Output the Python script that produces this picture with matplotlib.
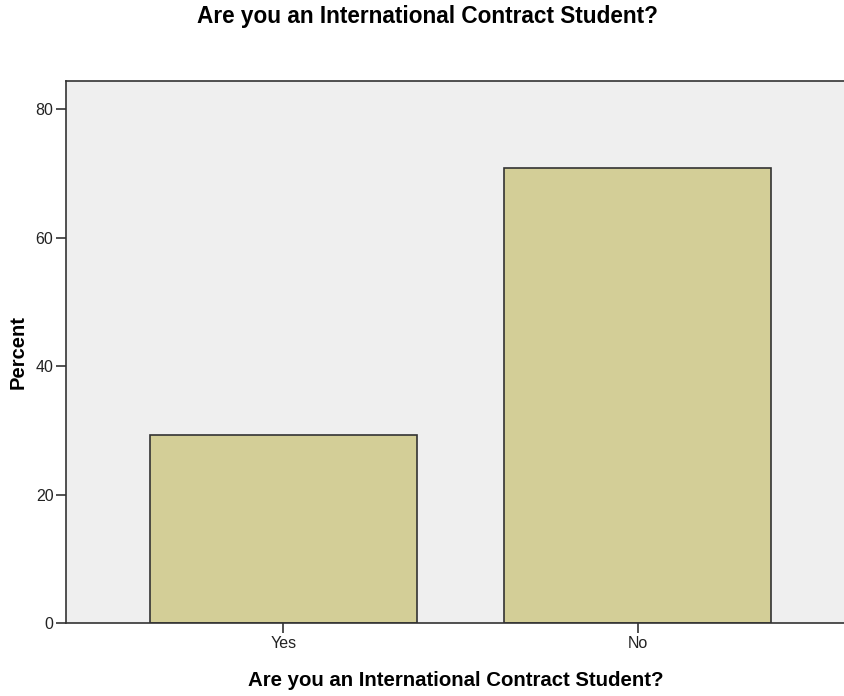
import matplotlib.pyplot as plt

categories = ['Yes', 'No']
percent = [29.2, 70.8]
yticks = [0, 20, 40, 60, 80]

plt.rcParams['font.family'] = ['Liberation Sans', 'DejaVu Sans']

fig = plt.figure(figsize=(8.45, 6.96), dpi=100)
ax = fig.add_axes([66/845, 73/696, 1 - 66/845, 542/696])
ax.set_facecolor('#efefef')

x = list(range(len(categories)))
ax.bar(x, percent, width=0.754, color='#d3ce97', edgecolor='#333333', linewidth=1.2, zorder=2)

ax.set_xlim(-0.614, 1.586)
ax.set_ylim(0, 84.4)
ax.set_xticks(x)
ax.set_xticklabels(categories)
ax.set_yticks(yticks)
ax.tick_params(axis='both', labelsize=11.5, length=7, width=1.2, color='#333333',
               labelcolor='#222222', pad=2)

for side in ['top', 'left', 'bottom']:
    ax.spines[side].set_color('#333333')
    ax.spines[side].set_linewidth(1.2)
ax.spines['right'].set_visible(False)

ax.set_ylabel('Percent', fontsize=14.5, fontweight='bold')
ax.yaxis.set_label_coords(-0.049, 0.5)
fig.text(456/845, 1 - 681/696, 'Are you an International Contract Student?', ha='center', va='center',
         fontsize=14.7, fontweight='bold')
fig.text(427/845, 1 - 17/696, 'Are you an International Contract Student?', ha='center', va='center',
         fontsize=16.3, fontweight='bold')

fig.savefig('out.png', dpi=100)
